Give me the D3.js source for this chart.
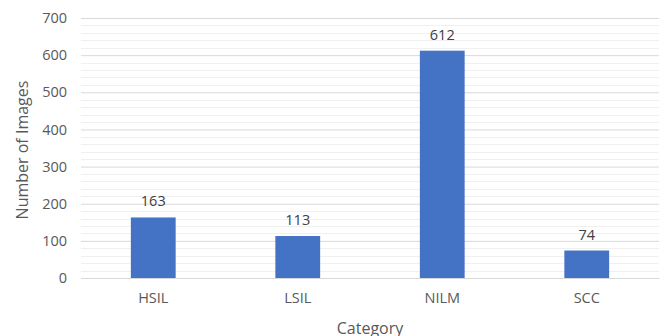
<!DOCTYPE html>
<html><head><meta charset="utf-8">
<script src="https://cdn.jsdelivr.net/npm/d3@7"></script>
<style>body{margin:0;background:#fff;} svg{display:block;}</style>
</head><body>
<script>
const categories = ["HSIL", "LSIL", "NILM", "SCC"];
const values = [163, 113, 612, 74];
const yTicks = [0, 100, 200, 300, 400, 500, 600, 700];
const xTitle = "Category";
const yTitle = "Number of Images";

const W = 662, H = 336;
const m = {left: 81, right: 3, top: 18, bottom: 58};
const font = "'Open Sans', sans-serif";
const svg = d3.select("body").append("svg").attr("width", W).attr("height", H);

const x = d3.scaleBand().domain(categories).range([m.left, W - m.right]).padding(0);
const y = d3.scaleLinear().domain([0, 700]).range([H - m.bottom, m.top]);

// minor gridlines
svg.append("g").selectAll("line").data(d3.range(0, 701, 20).filter(v => v % 100 !== 0))
  .join("line").attr("x1", m.left).attr("x2", W - m.right)
  .attr("y1", d => Math.round(y(d)) + 0.5).attr("y2", d => Math.round(y(d)) + 0.5)
  .attr("stroke", "#f0f0f0").attr("stroke-width", 1);

// major gridlines via axis
const yAxis = svg.append("g").attr("transform", `translate(${m.left},0)`)
  .call(d3.axisLeft(y).tickValues(yTicks).tickSize(-(W - m.left - m.right)).tickPadding(14));
yAxis.select(".domain").remove();
yAxis.selectAll(".tick line").attr("stroke", "#d9d9d9");
yAxis.selectAll(".tick text").attr("fill", "#595959").attr("font-family", font).attr("font-size", "14.5px");

// bars
const bw = x.bandwidth() * 0.31;
svg.append("g").selectAll("rect").data(values).join("rect")
  .attr("x", (d, i) => x(categories[i]) + x.bandwidth() / 2 - bw / 2)
  .attr("width", bw)
  .attr("y", d => y(d))
  .attr("height", d => y(0) - y(d))
  .attr("fill", "#4472c4");

// value labels
svg.append("g").selectAll("text").data(values).join("text")
  .attr("x", (d, i) => x(categories[i]) + x.bandwidth() / 2)
  .attr("y", d => y(d) - 11)
  .attr("text-anchor", "middle").attr("fill", "#404040")
  .attr("font-family", font).attr("font-size", "14.5px")
  .text(d => d);

// x axis
const xAxis = svg.append("g").attr("transform", `translate(0,${H - m.bottom})`)
  .call(d3.axisBottom(x).tickSize(0).tickPadding(15));
xAxis.select(".domain").attr("stroke", "#d9d9d9");
xAxis.selectAll(".tick text").attr("fill", "#595959").attr("font-family", font).attr("font-size", "14.5px");

// titles
svg.append("text").attr("x", 370).attr("y", 334).attr("text-anchor", "middle")
  .attr("fill", "#595959").attr("font-family", font).attr("font-size", "16px").text(xTitle);
svg.append("text").attr("transform", "translate(28,150) rotate(-90)").attr("text-anchor", "middle")
  .attr("fill", "#595959").attr("font-family", font).attr("font-size", "16px").text(yTitle);
</script>
</body></html>
